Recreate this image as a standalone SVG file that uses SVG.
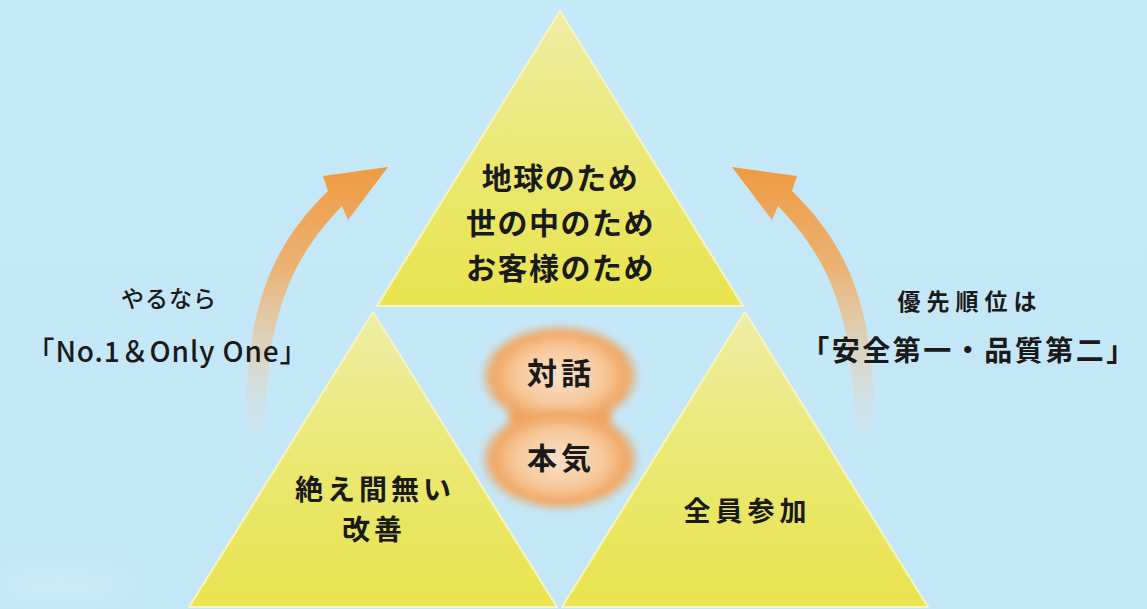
<svg xmlns="http://www.w3.org/2000/svg" width="1147" height="609" viewBox="0 0 1147 609">
<defs>
<linearGradient id="bg" x1="0" y1="0" x2="0" y2="1">
<stop offset="0" stop-color="#c6e9f9"/>
<stop offset="1" stop-color="#c3e6f7"/>
</linearGradient>
<linearGradient id="tri" x1="0" y1="0" x2="0" y2="1">
<stop offset="0" stop-color="#efeda6"/>
<stop offset="0.5" stop-color="#ebe772"/>
<stop offset="1" stop-color="#e9e44e"/>
</linearGradient>
<linearGradient id="arrowGrad" gradientUnits="userSpaceOnUse" x1="0" y1="170" x2="0" y2="450">
<stop offset="0" stop-color="#ef9b42"/>
<stop offset="0.35" stop-color="#eeb06c" stop-opacity="0.95"/>
<stop offset="0.7" stop-color="#e6cfb0" stop-opacity="0.6"/>
<stop offset="1" stop-color="#d8dedb" stop-opacity="0"/>
</linearGradient>
<radialGradient id="blob" cx="0.5" cy="0.5" r="0.5">
<stop offset="0" stop-color="#f9e0c8"/>
<stop offset="0.55" stop-color="#f7c99c"/>
<stop offset="0.85" stop-color="#f1a660"/>
<stop offset="1" stop-color="#f0a35c" stop-opacity="0"/>
</radialGradient>
<filter id="soft" x="-20%" y="-20%" width="140%" height="140%">
<feGaussianBlur stdDeviation="3.5"/>
</filter>
<filter id="cloud" x="-50%" y="-50%" width="200%" height="200%">
<feGaussianBlur stdDeviation="12"/>
</filter>
<style>
.t{font-family:"Noto Sans CJK JP","Noto Sans",sans-serif;font-weight:700;fill:#1a1a1a;text-anchor:middle}
.m{font-weight:500}
.triangle{fill:url(#tri);stroke:#f6f4c0;stroke-width:2;stroke-linejoin:round}
.arrow{fill:url(#arrowGrad)}
</style>
</defs>
<rect x="0" y="0" width="1147" height="609" fill="url(#bg)"/>
<ellipse cx="60" cy="585" rx="70" ry="14" fill="#ffffff" opacity="0.2" filter="url(#cloud)"/>

<g id="connectors">
<path class="arrow" d="M246 450 C244 330 259 258 328 191 L323 176 L388 167 L348 220 L342 206 C282 268 265 330 265 450 Z"/>
<path class="arrow" transform="translate(1120 0) scale(-1 1)" d="M246 450 C244 330 259 258 328 191 L323 176 L388 167 L348 220 L342 206 C282 268 265 330 265 450 Z"/>
</g>

<g id="node-top">
<polygon class="triangle" points="560,11 377,306 743,306"/>
<text class="t" font-size="30" letter-spacing="1.5" x="560.5" y="189">地球のため</text>
<text class="t" font-size="30" letter-spacing="1.5" x="560.5" y="234">世の中のため</text>
<text class="t" font-size="30" letter-spacing="1.5" x="560.5" y="279">お客様のため</text>
</g>

<g id="node-left">
<polygon class="triangle" points="373,312 189,607 557,607"/>
<text class="t" font-size="28" letter-spacing="4" x="375" y="500">絶え間無い</text>
<text class="t" font-size="28" letter-spacing="4" x="374" y="540">改善</text>
</g>

<g id="node-right">
<polygon class="triangle" points="745,312 562,607 928,607"/>
<text class="t" font-size="27" letter-spacing="5" x="747.5" y="521">全員参加</text>
</g>

<g id="node-center">
<g filter="url(#soft)">
<ellipse cx="560" cy="417" rx="52" ry="22" fill="#f0a55e"/>
<ellipse cx="560" cy="376" rx="80" ry="52" fill="url(#blob)"/>
<ellipse cx="560" cy="459" rx="80" ry="52" fill="url(#blob)"/>
</g>
<text class="t" font-size="30" letter-spacing="4" x="561" y="384">対話</text>
<text class="t" font-size="30" letter-spacing="4" x="561" y="469">本気</text>
</g>

<g id="label-left">
<text class="t m" font-size="23" letter-spacing="1" x="169" y="307">やるなら</text>
<text class="t m" font-size="28" x="167" y="362" textLength="281" lengthAdjust="spacing">「No.1＆Only One」</text>
</g>

<g id="label-right">
<text class="t" font-size="23" letter-spacing="6" x="970" y="310">優先順位は</text>
<text class="t" font-size="28" letter-spacing="2.5" x="969" y="361">「安全第一・品質第二」</text>
</g>
</svg>
